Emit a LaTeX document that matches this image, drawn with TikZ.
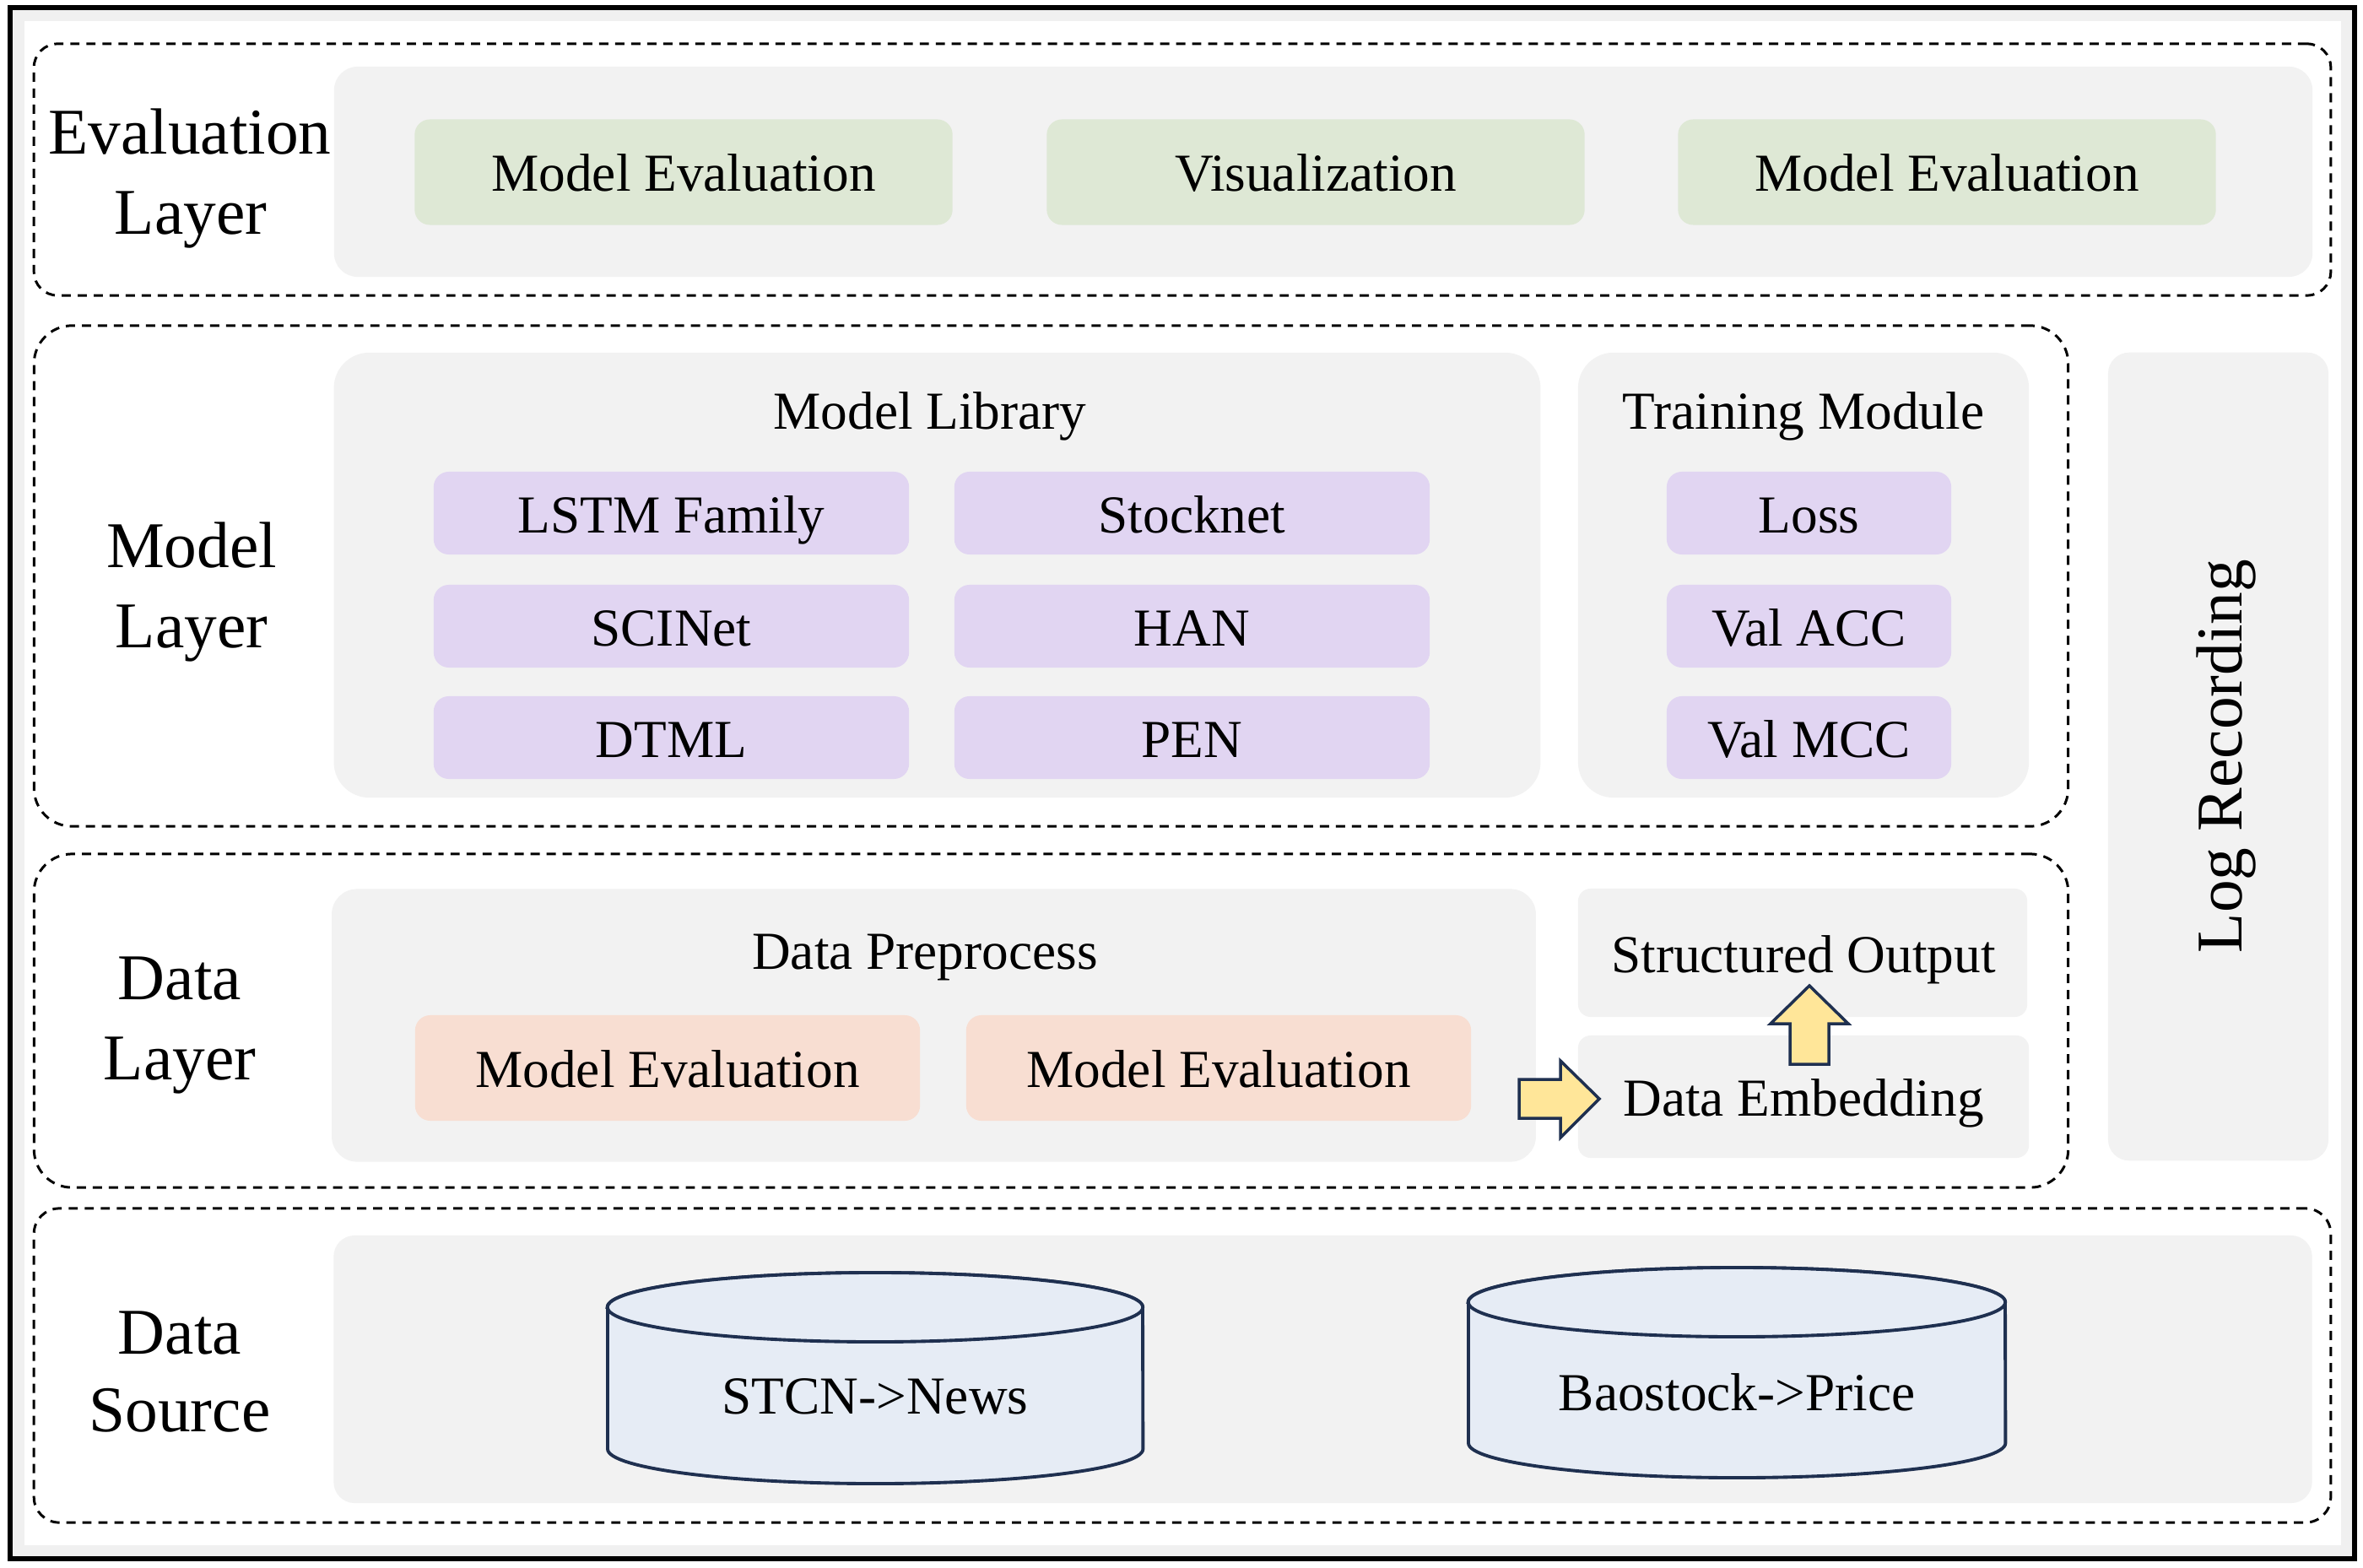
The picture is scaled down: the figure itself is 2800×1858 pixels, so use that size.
\documentclass[tikz,border=0pt]{standalone}
\usepackage{fontspec}
\setmainfont{Liberation Serif}
\definecolor{bgray}{HTML}{F2F2F2}
\definecolor{lgreen}{HTML}{DEE8D5}
\definecolor{lpurple}{HTML}{E1D5F2}
\definecolor{lorange}{HTML}{F8DED2}
\definecolor{cylfill}{HTML}{E6ECF5}
\definecolor{navy}{HTML}{1F3050}
\definecolor{arrowyel}{HTML}{FFE699}
\begin{document}
\begin{tikzpicture}[x=0.01cm,y=-0.01cm,
  layerbox/.style={draw=black, line width=0.85pt, dash pattern=on 3.1pt off 2.3pt, inner sep=0pt},
  panel/.style={fill=bgray, draw=none, inner sep=0pt},
  itembox/.style={draw=none, inner sep=0pt, rounded corners=0.18cm},
  greenbox/.style={itembox, fill=lgreen, minimum width=6.37cm, minimum height=1.25cm},
  purplebox/.style={itembox, fill=lpurple, minimum height=0.98cm},
  orangebox/.style={itembox, fill=lorange, minimum height=1.25cm},
  lbl/.style={font=\fontsize{22}{27}\selectfont, inner sep=0pt, text height=14.5pt, text depth=0pt},
  txt/.style={font=\fontsize{18}{21}\selectfont, inner sep=0pt, text height=11.9pt, text depth=0pt},
  blockarrow/.style={fill=arrowyel, draw=navy, line width=1pt, line join=miter},
  cyl/.style={fill=cylfill, draw=navy, line width=1.1pt}
]
\useasboundingbox (0,0) rectangle (2800,1858);
\fill[white] (0,0) rectangle (2800,1858);
% outer frame with faint inner shadow
\draw[line width=4pt, color=black!6] (22,18) rectangle (2781,1838);
\draw[line width=1.45pt, black] (12,9) rectangle (2790,1847);

% ---------- Evaluation layer ----------
\node[layerbox, rounded corners=0.28cm, minimum width=27.20cm, minimum height=2.98cm] (evl) at (1401,201) {};
\node[panel, rounded corners=0.28cm, minimum width=23.43cm, minimum height=2.49cm] (evbg) at (1568,203.5) {};
\node[lbl] (evlab1) at (225,157.5) {Evaluation};
\node[lbl] (evlab2) at (226,252) {Layer};
\node[greenbox] (ev1) at (810,204) {};
\node[greenbox] (ev2) at (1559,204) {};
\node[greenbox] (ev3) at (2307,204) {};
\node[txt] (ev1t) at (810,206) {Model Evaluation};
\node[txt] (ev2t) at (1559,206) {Visualization};
\node[txt] (ev3t) at (2307,206) {Model Evaluation};

% ---------- Model layer ----------
\node[layerbox, rounded corners=0.45cm, minimum width=24.09cm, minimum height=5.93cm] (mdl) at (1245.5,682.5) {};
\node[panel, rounded corners=0.42cm, minimum width=14.29cm, minimum height=5.27cm] (libbg) at (1110.5,681.5) {};
\node[panel, rounded corners=0.42cm, minimum width=5.34cm, minimum height=5.27cm] (trbg) at (2137,681.5) {};
\node[lbl] (mdlab1) at (227,647) {Model};
\node[lbl] (mdlab2) at (227,742) {Layer};
\node[txt] (libt) at (1102,488) {Model Library};
\node[txt] (trt) at (2137,488) {Training Module};
\node[purplebox, minimum width=5.63cm] (m1) at (795.5,608) {};
\node[purplebox, minimum width=5.63cm] (m2) at (1412.5,608) {};
\node[purplebox, minimum width=5.63cm] (m3) at (795.5,742) {};
\node[purplebox, minimum width=5.63cm] (m4) at (1412.5,742) {};
\node[purplebox, minimum width=5.63cm] (m5) at (795.5,874) {};
\node[purplebox, minimum width=5.63cm] (m6) at (1412.5,874) {};
\node[purplebox, minimum width=3.37cm] (t1) at (2143.5,608) {};
\node[purplebox, minimum width=3.37cm] (t2) at (2143.5,742) {};
\node[purplebox, minimum width=3.37cm] (t3) at (2143.5,874) {};
\node[txt] (m1t) at (795.5,611) {LSTM Family};
\node[txt] (m2t) at (1412.5,611) {Stocknet};
\node[txt] (m3t) at (795.5,745) {SCINet};
\node[txt] (m4t) at (1412.5,745) {HAN};
\node[txt] (m5t) at (795.5,877) {DTML};
\node[txt] (m6t) at (1412.5,877) {PEN};
\node[txt] (t1t) at (2143.5,611) {Loss};
\node[txt] (t2t) at (2143.5,745) {Val ACC};
\node[txt] (t3t) at (2143.5,877) {Val MCC};

% ---------- Log recording ----------
\node[panel, rounded corners=0.25cm, minimum width=2.61cm, minimum height=9.57cm] (logbg) at (2628.5,896.5) {};
\node[lbl, rotate=90] (logt) at (2631,896) {Log Recording};

% ---------- Data layer ----------
\node[layerbox, rounded corners=0.45cm, minimum width=24.09cm, minimum height=3.95cm] (dtl) at (1245.5,1209.5) {};
\node[panel, rounded corners=0.3cm, minimum width=14.26cm, minimum height=3.23cm] (prebg) at (1106.5,1215) {};
\node[lbl] (dtlab1) at (213,1159) {Data};
\node[lbl] (dtlab2) at (213,1254) {Layer};
\node[txt] (pret) at (1096,1128) {Data Preprocess};
\node[orangebox, minimum width=5.98cm] (p1) at (791,1265.5) {};
\node[orangebox, minimum width=5.98cm] (p2) at (1444,1265.5) {};
\node[txt] (p1t) at (791,1268) {Model Evaluation};
\node[txt] (p2t) at (1444,1268) {Model Evaluation};
\node[panel, rounded corners=0.15cm, minimum width=5.32cm, minimum height=1.52cm] (sobg) at (2136,1129) {};
\node[panel, rounded corners=0.15cm, minimum width=5.34cm, minimum height=1.45cm] (debg) at (2137,1299.5) {};
\node[txt] (sot) at (2137,1132) {Structured Output};
\node[txt] (det) at (2137,1302) {Data Embedding};
% block arrows
\draw[blockarrow] (1800,1279) -- (1849,1279) -- (1849,1257) -- (1895,1302) -- (1849,1348) -- (1849,1325) -- (1800,1325) -- cycle;
\draw[blockarrow] (2121,1261) -- (2121,1213) -- (2098,1213) -- (2144,1168) -- (2190,1213) -- (2167,1213) -- (2167,1261) -- cycle;

% ---------- Data source ----------
\node[layerbox, rounded corners=0.3cm, minimum width=27.20cm, minimum height=3.72cm] (dsl) at (1401,1618) {};
\node[panel, rounded corners=0.25cm, minimum width=23.43cm, minimum height=3.17cm] (dsbg) at (1567.5,1622.5) {};
\node[lbl] (dslab1) at (213,1579) {Data};
\node[lbl] (dslab2) at (213,1671) {Source};
% cylinder 1
\draw[cyl] (720,1549) -- (720,1717) arc (180:360:3.17cm and 0.41cm) -- (1354,1549) arc (0:180:3.17cm and 0.41cm) -- cycle;
\draw[cyl] (1037,1549) ellipse (3.17cm and 0.41cm);
\node[txt] (news) at (1037,1655) {STCN->News};
% cylinder 2
\draw[cyl] (1740,1543) -- (1740,1710) arc (180:360:3.18cm and 0.41cm) -- (2376,1543) arc (0:180:3.18cm and 0.41cm) -- cycle;
\draw[cyl] (2058,1543) ellipse (3.18cm and 0.41cm);
\node[txt] (price) at (2058,1651) {Baostock->Price};
\end{tikzpicture}
\end{document}
